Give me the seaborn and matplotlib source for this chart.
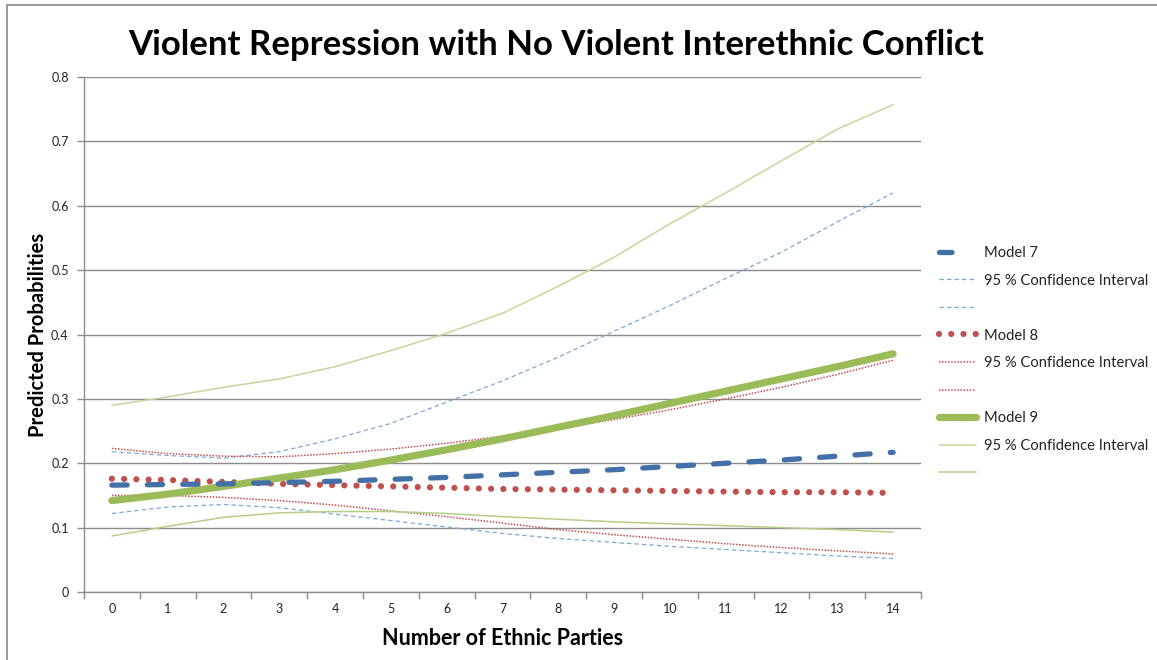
import numpy as np
import pandas as pd
import matplotlib
matplotlib.use("Agg")
import matplotlib.pyplot as plt
import seaborn as sns
from matplotlib.lines import Line2D

# ---- data ----
parties = list(range(15))
model7 = [0.166, 0.167, 0.168, 0.170, 0.172, 0.175, 0.178, 0.182, 0.186, 0.190, 0.195, 0.200, 0.205, 0.211, 0.217]
model7_hi = [0.218, 0.212, 0.208, 0.218, 0.238, 0.262, 0.295, 0.328, 0.365, 0.405, 0.445, 0.487, 0.528, 0.575, 0.620]
model7_lo = [0.122, 0.132, 0.136, 0.131, 0.121, 0.111, 0.101, 0.091, 0.083, 0.077, 0.071, 0.066, 0.061, 0.056, 0.052]
model8 = [0.176, 0.174, 0.171, 0.168, 0.166, 0.164, 0.162, 0.160, 0.159, 0.158, 0.157, 0.156, 0.155, 0.155, 0.154]
model8_hi = [0.223, 0.215, 0.211, 0.210, 0.215, 0.222, 0.231, 0.242, 0.254, 0.268, 0.283, 0.300, 0.318, 0.338, 0.360]
model8_lo = [0.150, 0.150, 0.147, 0.142, 0.135, 0.126, 0.117, 0.107, 0.097, 0.089, 0.082, 0.075, 0.069, 0.064, 0.059]
model9 = [0.142, 0.152, 0.164, 0.177, 0.190, 0.205, 0.221, 0.238, 0.256, 0.274, 0.293, 0.312, 0.331, 0.350, 0.370]
model9_hi = [0.290, 0.303, 0.318, 0.331, 0.350, 0.375, 0.402, 0.433, 0.475, 0.520, 0.572, 0.620, 0.670, 0.719, 0.757]
model9_lo = [0.087, 0.102, 0.116, 0.123, 0.125, 0.125, 0.122, 0.117, 0.113, 0.109, 0.106, 0.103, 0.100, 0.097, 0.093]
yticks = [0, 0.1, 0.2, 0.3, 0.4, 0.5, 0.6, 0.7, 0.8]
ytick_labels = ["0", "0.1", "0.2", "0.3", "0.4", "0.5", "0.6", "0.7", "0.8"]
title = "Violent Repression with No Violent Interethnic Conflict"
xlabel = "Number of Ethnic Parties"
ylabel = "Predicted Probabilities"
ci_label = "95 % Confidence Interval"

sns.set_theme(style="white")
plt.rcParams['font.family'] = ['Lato', 'DejaVu Sans']
plt.rcParams['lines.scale_dashes'] = False

fig = plt.figure(figsize=(11.57, 6.6), dpi=100)
ax = fig.add_axes([84 / 1157, 68 / 660, (921 - 84) / 1157, (592 - 77) / 660])

df = pd.DataFrame({"x": parties})

BLUE = "#4470A8"
BLUE_L = "#7FA6DA"
RED = "#C0504D"
GREEN = "#9BBB59"
GREEN_L = "#C3D69B"
GREEN_M = "#B5CE87"

series = [
    (model7, "Model 7", dict(color=BLUE, lw=3.8, dashes=(11, 14.5), dash_capstyle="round", zorder=5)),
    (model7_hi, ci_label, dict(color=BLUE_L, lw=0.9, dashes=(3.2, 2.2), zorder=3)),
    (model7_lo, "", dict(color=BLUE_L, lw=0.9, dashes=(3.2, 2.2), zorder=3)),
    (model8, "Model 8", dict(color=RED, lw=4.5, dashes=(0.01, 8.8), dash_capstyle="round", zorder=4)),
    (model8_hi, ci_label, dict(color=RED, lw=1.1, dashes=(1.1, 1.1), zorder=3)),
    (model8_lo, "", dict(color=RED, lw=1.1, dashes=(1.1, 1.1), zorder=3)),
    (model9, "Model 9", dict(color=GREEN, lw=5.2, solid_capstyle="round", zorder=4)),
    (model9_hi, ci_label, dict(color=GREEN_L, lw=1.1, zorder=3)),
    (model9_lo, "", dict(color=GREEN_M, lw=1.1, zorder=3)),
]

handles = []
labels = []
for i, (vals, lab, kw) in enumerate(series):
    d = df.assign(y=vals)
    sns.lineplot(data=d, x="x", y="y", ax=ax, **kw)
    handles.append(ax.lines[-1])
    labels.append(lab)

# legend proxy for Model 7 so only a single dash is shown
handles[0] = Line2D([], [], color=BLUE, lw=3.8, dashes=(9, 40), dash_capstyle="round")

ax.set_xlim(-0.5, 14.5)
ax.set_ylim(0, 0.8)
ax.set_yticks(yticks)
ax.set_yticklabels(ytick_labels)
ax.set_xticks(parties)
ax.set_xticklabels([str(p) for p in parties])
ax.set_xticks(np.arange(-0.5, 15, 1), minor=True)
ax.tick_params(axis="x", which="major", length=0, pad=8, labelsize=9, labelcolor="#222222")
ax.tick_params(axis="x", which="minor", length=5, color="#8c8c8c", width=1, direction="out", bottom=True)
ax.tick_params(axis="y", which="major", length=5, color="#8c8c8c", width=1, direction="out", left=True,
               labelsize=9, labelcolor="#222222", pad=6)
ax.yaxis.grid(True, color="#8c8c8c", lw=1)
ax.xaxis.grid(False)
ax.set_axisbelow(True)
for s in ["top", "right"]:
    ax.spines[s].set_visible(False)
for s in ["left", "bottom"]:
    ax.spines[s].set_color("#8c8c8c")
    ax.spines[s].set_linewidth(1)

ax.set_xlabel(xlabel, fontsize=15.5, fontweight="bold", color="black", labelpad=9)
ax.set_ylabel(ylabel, fontsize=14.5, fontweight="bold", color="black", labelpad=2)
fig.text(556 / 1157, 1 - 45 / 660, title, ha="center", va="center", fontsize=25, fontweight="bold", color="black")

leg = fig.legend(handles, labels, loc="upper left", bbox_to_anchor=(939 / 1157, 1 - 246 / 660),
                 frameon=False, fontsize=10.6, handlelength=2.5, handletextpad=0.55, labelspacing=0.92,
                 borderaxespad=0, borderpad=0)
for t in leg.get_texts():
    t.set_color("#222222")

# screenshot border
fig.add_artist(Line2D([7 / 1157, 7 / 1157], [0, 1 - 5 / 660], transform=fig.transFigure, color="#8a8a8a", lw=1.2))
fig.add_artist(Line2D([7 / 1157, 1], [1 - 5 / 660, 1 - 5 / 660], transform=fig.transFigure, color="#8a8a8a", lw=1.2))

fig.savefig("out.png", dpi=100)
